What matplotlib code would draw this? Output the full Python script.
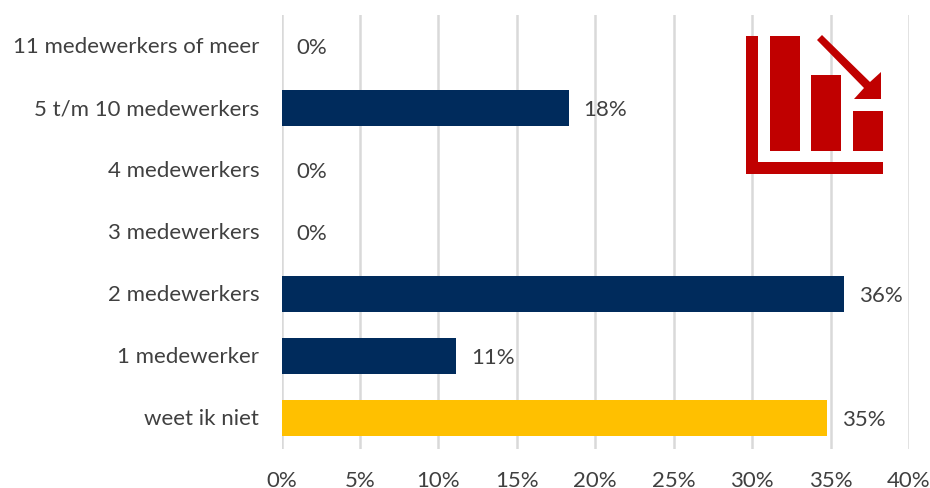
import matplotlib
matplotlib.use('Agg')
import matplotlib.pyplot as plt
from matplotlib.patches import Polygon, Rectangle
from matplotlib.transforms import ScaledTranslation

categories = ['weet ik niet', '1 medewerker', '2 medewerkers', '3 medewerkers',
              '4 medewerkers', '5 t/m 10 medewerkers', '11 medewerkers of meer']
values = [34.8, 11.15, 35.85, 0, 0, 18.3, 0]
labels = ['35%', '11%', '36%', '0%', '0%', '18%', '0%']
colors = ['#FFC000', '#002B5C', '#002B5C', '#002B5C', '#002B5C', '#002B5C', '#002B5C']
ticks = [0, 5, 10, 15, 20, 25, 30, 35, 40]

plt.rcParams['font.family'] = ['Lato', 'DejaVu Sans']
FS = 16
W, H = 930, 489
fig = plt.figure(figsize=(W/100, H/100), dpi=100)
L, R, T, B = 281.5, 909, 16, 450
ax = fig.add_axes([L/W, 1-B/H, (R-L)/W, (B-T)/H])
ax.barh(range(7), values, height=0.57, color=colors, zorder=3)
ax.set_xlim(0, 40)
ax.set_ylim(-0.5, 6.5)
ax.set_xticks(ticks)
ax.set_xticklabels([f'{t}%' for t in ticks], fontsize=FS, color='#404040')
ax.set_yticks(range(7))
ax.set_yticklabels(categories, fontsize=FS, color='#404040')
ax.tick_params(length=0, pad=16, axis='y')
ax.tick_params(length=0, pad=15, axis='x')
up = ScaledTranslation(0, 2/100, fig.dpi_scale_trans)
for lab in ax.get_yticklabels():
    lab.set_transform(lab.get_transform() + up)
ax.grid(axis='x', color='#D9D9D9', lw=1.8, zorder=0)
for s in ax.spines.values():
    s.set_visible(False)
for i, (v, t) in enumerate(zip(values, labels)):
    ax.annotate(t, (v, i), xytext=(15, -1), textcoords='offset pixels', va='center',
                fontsize=FS, color='#404040', zorder=4)

red = '#C00000'
ov = fig.add_axes([0, 0, 1, 1])
ov.set_xlim(0, W); ov.set_ylim(H, 0); ov.axis('off'); ov.patch.set_alpha(0)
for x, y, w, h in [(746, 37, 12, 138), (746, 163, 137, 12), (770, 37, 30, 115),
                   (811, 76, 30, 76), (853, 112, 30, 40)]:
    ov.add_patch(Rectangle((x, y), w, h, color=red, lw=0))
ov.add_patch(Polygon([(822, 36), (817, 41), (864, 89), (854, 100), (881, 100),
                      (881, 73), (870, 83)], color=red, lw=0))
fig.savefig('out.png', dpi=100)
